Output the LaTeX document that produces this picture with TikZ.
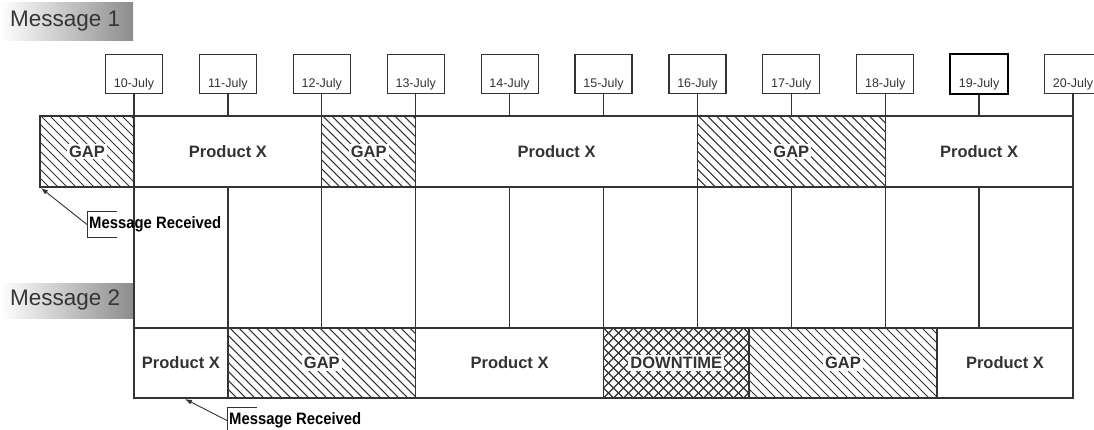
\documentclass[tikz,border=0pt]{standalone}
\usepackage{fontspec}
\setmainfont{Liberation Sans}
\usetikzlibrary{arrows.meta,calc}
\definecolor{ink}{HTML}{333333}
\definecolor{msgtext}{HTML}{353535}
\tikzset{
 lw/.style={line width=1.3pt, draw=ink},
 datebox/.style={draw=ink, line width=1.2pt, minimum width=57pt, inner xsep=0pt, inner ysep=6pt, text height=26.5pt, text depth=0.5pt, font=\fontsize{12.5}{14}\selectfont, text=ink, anchor=north},
 seglbl/.style={font=\bfseries\fontsize{16.5}{18}\selectfont, text=ink},
 hatchlbl/.style={seglbl, fill=white, inner sep=2pt},
 hatchline/.style={line width=1pt, draw=ink},
 crossline/.style={line width=1.2pt, draw=ink},
 msglbl/.style={font=\fontsize{22.5}{26}\selectfont, text=msgtext, anchor=west, inner sep=0pt},
 msgshade/.style={left color=white, right color=black!45},
 callout/.style={font=\bfseries\fontsize{16.5}{18}\selectfont\addfontfeature{FakeStretch=0.9}, text=black, anchor=west, inner xsep=2pt, inner ysep=0pt, minimum height=25pt},
 bracket/.style={line width=1pt, draw=ink},
 arr/.style={-{Latex[length=7pt,width=5pt]}, line width=0.9pt, draw=ink},
}
% diagonal hatch "\" inside rectangle x1,y1,x2,y2 (y downward), spacing #5
\newcommand\myhatch[6]{%
  \begin{scope}
    \clip (#1,#2) rectangle (#3,#4);
    \pgfmathsetmacro\hcs{#1-#4}
    \pgfmathtruncatemacro\hnn{(#3-#1+#4-#2)/#5+1}
    \foreach \k in {0,...,\hnn} {
      \pgfmathsetmacro\hcc{\hcs+#5*\k}
      \draw[#6] (\hcc+#2,#2) -- (\hcc+#4,#4);
    }
  \end{scope}}
% diagonal hatch "/" inside rectangle
\newcommand\myrhatch[6]{%
  \begin{scope}
    \clip (#1,#2) rectangle (#3,#4);
    \pgfmathsetmacro\hcs{#1+#2}
    \pgfmathtruncatemacro\hnn{(#3-#1+#4-#2)/#5+1}
    \foreach \k in {0,...,\hnn} {
      \pgfmathsetmacro\hcc{\hcs+#5*\k}
      \draw[#6] (\hcc-#2,#2) -- (\hcc-#4,#4);
    }
  \end{scope}}
\begin{document}
\begin{tikzpicture}[x=1pt,y=-1pt]
\useasboundingbox (0,0) rectangle (1094,429);
% message labels
\shade[msgshade] (0,2) rectangle (133,40);
\node[msglbl] (m1) at (10,21) {Message 1};
\shade[msgshade] (0,283) rectangle (133,318);
\node[msglbl] (m2) at (10,300) {Message 2};
% hatch fills
\myhatch{40}{116}{134}{187}{9}{hatchline}
\myhatch{321.8}{116}{415.7}{187}{9}{hatchline}
\myhatch{697.4}{116}{885.2}{187}{9}{hatchline}
\myhatch{227.9}{328}{415.7}{398}{9}{hatchline}
\myhatch{749}{328}{937}{398}{9}{hatchline}
\myhatch{603.5}{328}{749}{398}{10}{crossline}
\myrhatch{603.5}{328}{749}{398}{10}{crossline}
% dates and grid
\foreach \i in {0,...,10} {
  \pgfmathsetmacro\xx{134+93.9*\i}
  \pgfmathtruncatemacro\dd{10+\i}
  \coordinate (t\i) at (\xx,116);
  \coordinate (b\i) at (\xx,187);
  \coordinate (u\i) at (\xx,328);
  \coordinate (w\i) at (\xx,398);
  \node[datebox] (d\i) at (\xx,54) {\dd-July};
  \draw[lw] (d\i.south) -- (t\i);
  \draw[lw] (b\i) -- (u\i);
}
\draw[black, line width=1.6pt] (d9.south west) rectangle (d9.north east);
% row 1
\coordinate (a1) at (40,116);
\draw[lw] (a1) rectangle (b0);
\node[hatchlbl] (g1) at ($(a1)!0.5!(b0)$) {GAP};
\draw[lw] (t0) rectangle (b2);
\node[seglbl] (p1) at ($(t0)!0.5!(b2)$) {Product X};
\draw[lw] (t2) rectangle (b3);
\node[hatchlbl] (g2) at ($(t2)!0.5!(b3)$) {GAP};
\draw[lw] (t3) rectangle (b6);
\node[seglbl] (p2) at ($(t3)!0.5!(b6)$) {Product X};
\draw[lw] (t6) rectangle (b8);
\node[hatchlbl] (g3) at ($(t6)!0.5!(b8)$) {GAP};
\draw[lw] (t8) rectangle (b10);
\node[seglbl] (p3) at ($(t8)!0.5!(b10)$) {Product X};
% row 2
\coordinate (e1) at (749,328);
\coordinate (e2) at (749,398);
\coordinate (f1) at (937,328);
\coordinate (f2) at (937,398);
\draw[lw] (u0) rectangle (w1);
\node[seglbl] (q1) at ($(u0)!0.5!(w1)$) {Product X};
\draw[lw] (u1) rectangle (w3);
\node[hatchlbl] (h1) at ($(u1)!0.5!(w3)$) {GAP};
\draw[lw] (u3) rectangle (w5);
\node[seglbl] (q2) at ($(u3)!0.5!(w5)$) {Product X};
\draw[lw] (u5) rectangle (e2);
\node[hatchlbl] (dt) at ($(u5)!0.5!(e2)$) {DOWNTIME};
\draw[lw] (e1) rectangle (f2);
\node[hatchlbl] (h2) at ($(e1)!0.5!(f2)$) {GAP};
\draw[lw] (f1) rectangle (w10);
\node[seglbl] (q3) at ($(f1)!0.5!(w10)$) {Product X};
% callouts
\node[callout] (r1) at (87,224.5) {Message Received};
\draw[bracket] ([xshift=30pt]r1.north west) -- (r1.north west) -- (r1.south west) -- ([xshift=30pt]r1.south west);
\coordinate (c1) at (41,188);
\draw[arr] (r1.west) -- (c1);
\node[callout] (r2) at (227,420.5) {Message Received};
\draw[bracket] ([xshift=30pt]r2.north west) -- (r2.north west) -- (r2.south west) -- ([xshift=30pt]r2.south west);
\coordinate (c2) at (185,399);
\draw[arr] (r2.west) -- (c2);
\end{tikzpicture}
\end{document}
